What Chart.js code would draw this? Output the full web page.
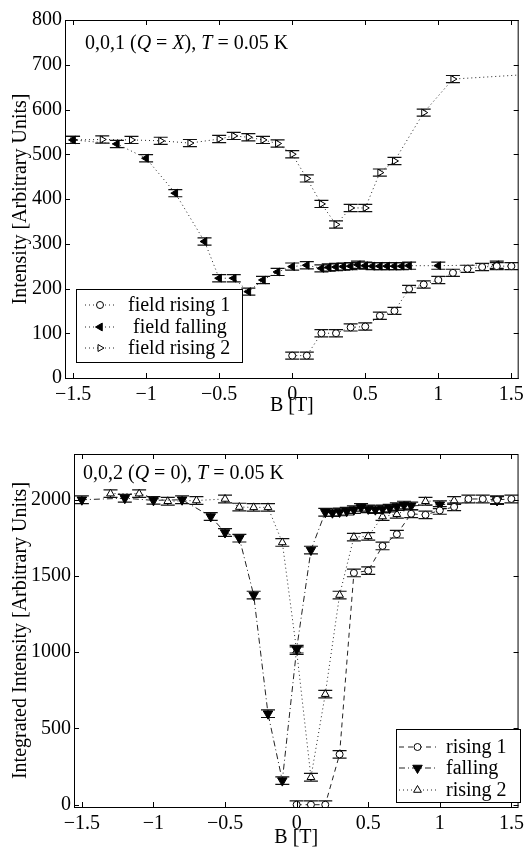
<!DOCTYPE html>
<html>
<head>
<meta charset="utf-8">
<script src="https://cdn.jsdelivr.net/npm/chart.js@4.4.0/dist/chart.umd.min.js"></script>
<style>
  body { margin: 0; background: #fff; }
  #wrap { position: relative; width: 529px; height: 848px; }
  canvas { position: absolute; left: 0; }
</style>
</head>
<body>
<div id="wrap">
  <canvas id="topChart" width="529" height="420" style="top:0"></canvas>
  <canvas id="bottomChart" width="529" height="428" style="top:420px"></canvas>
</div>
<script>
// Data: 0,0,1 peak (top panel)
const bRise1 = [0, 0.1, 0.2, 0.3, 0.4, 0.5, 0.6, 0.7, 0.8, 0.9, 1.0, 1.1, 1.2, 1.3, 1.4, 1.5];
const iRise1 = [50, 50, 100, 100, 113, 115, 139, 150, 199, 209, 219, 235, 244, 248, 250, 250];
const bFall = [1.4, 1.0, 0.8, 0.75, 0.7, 0.65, 0.6, 0.55, 0.5, 0.45, 0.4, 0.35, 0.3, 0.25, 0.2, 0.1, 0, -0.1, -0.2, -0.3, -0.4, -0.5, -0.6, -0.8, -1.0, -1.2, -1.5];
const iFall = [253, 251, 251, 250, 250, 250, 250, 250, 251, 253, 250, 249, 248, 247, 245, 252, 249, 237, 219, 193, 223, 223, 305, 413, 491, 523, 532];
const bRise2 = [-1.5, -1.3, -1.1, -0.9, -0.7, -0.5, -0.4, -0.3, -0.2, -0.1, 0, 0.1, 0.2, 0.3, 0.4, 0.5, 0.6, 0.7, 0.9, 1.1, 1.6];
const iRise2 = [532, 533, 532, 530, 525, 534, 541, 538, 532, 524, 500, 446, 389, 343, 380, 380, 459, 485, 593, 668, 678];

// Data: 0,0,2 peak (bottom panel)
const b2Rise1 = [0, 0.1, 0.2, 0.3, 0.4, 0.5, 0.6, 0.7, 0.8, 0.9, 1.0, 1.1, 1.2, 1.3, 1.4, 1.5];
const i2Rise1 = [0, 0, 0, 330, 1520, 1535, 1697, 1774, 1908, 1901, 1930, 1953, 2005, 2005, 2000, 2005];
const b2Fall = [1.4, 1.0, 0.8, 0.75, 0.7, 0.65, 0.6, 0.55, 0.5, 0.45, 0.4, 0.35, 0.3, 0.25, 0.2, 0.1, 0, -0.1, -0.2, -0.3, -0.4, -0.5, -0.6, -0.8, -1.0, -1.2, -1.5];
const i2Fall = [1995, 1967, 1960, 1965, 1955, 1945, 1940, 1935, 1940, 1950, 1935, 1925, 1920, 1915, 1918, 1670, 1020, 158, 597, 1375, 1748, 1785, 1890, 2000, 1996, 2010, 2000];
const b2Rise2 = [-1.3, -1.1, -0.9, -0.7, -0.5, -0.4, -0.3, -0.2, -0.1, 0, 0.1, 0.2, 0.3, 0.4, 0.5, 0.6, 0.7, 0.9, 1.1];
const i2Rise2 = [2040, 2040, 1990, 1995, 2005, 1952, 1950, 1950, 1720, 1010, 180, 725, 1375, 1755, 1760, 1890, 1905, 1990, 1995];

// Tick labels
const xTicks = [-1.5, -1, -0.5, 0, 0.5, 1, 1.5];
const yTicksTop = [0, 100, 200, 300, 400, 500, 600, 700, 800];
const yTicksBottom = [0, 500, 1000, 1500, 2000];

const FONT = '"Liberation Serif", "Times New Roman", serif';

function pts(xs, ys) {
    return xs.map((x, i) => ({ x: x, y: ys[i] }));
}

function fmt(v) {
    return v < 0 ? '\u2212' + Math.abs(v) : String(v);
}

// error bars, frame with inward ticks, titles, annotation and legend
function panelPlugin(cfg) {
    return {
        id: 'panel',
        beforeDatasetsDraw(chart) {
            const ctx = chart.ctx;
            const a = chart.chartArea;
            const ys = chart.scales.y;
            ctx.save();
            ctx.beginPath();
            ctx.rect(a.left, a.top, a.right - a.left, a.bottom - a.top);
            ctx.clip();
            ctx.strokeStyle = '#111';
            ctx.lineWidth = 1.2;
            chart.data.datasets.forEach((ds, i) => {
                const meta = chart.getDatasetMeta(i);
                meta.data.forEach((el, j) => {
                    const p = ds.data[j];
                    const px = el.x;
                    const y1 = ys.getPixelForValue(p.y + cfg.err);
                    const y2 = ys.getPixelForValue(p.y - cfg.err);
                    ctx.beginPath();
                    ctx.moveTo(px, y1); ctx.lineTo(px, y2);
                    ctx.moveTo(px - 7, y1); ctx.lineTo(px + 7, y1);
                    ctx.moveTo(px - 7, y2); ctx.lineTo(px + 7, y2);
                    ctx.stroke();
                });
            });
            ctx.restore();
        },
        afterDraw(chart) {
            const ctx = chart.ctx;
            const a = chart.chartArea;
            const xs = chart.scales.x, ys = chart.scales.y;
            ctx.save();
            ctx.strokeStyle = '#000';
            ctx.lineWidth = 1;
            ctx.strokeRect(a.left + 0.5, a.top + 0.5, a.right - a.left - 1, a.bottom - a.top);
            ctx.beginPath();
            xTicks.forEach(v => {
                const px = Math.round(xs.getPixelForValue(v)) + 0.5;
                ctx.moveTo(px, a.bottom); ctx.lineTo(px, a.bottom - 5);
                ctx.moveTo(px, a.top); ctx.lineTo(px, a.top + 5);
            });
            cfg.yTicks.forEach(v => {
                const py = Math.round(ys.getPixelForValue(v)) + 0.5;
                ctx.moveTo(a.left, py); ctx.lineTo(a.left + 5, py);
                ctx.moveTo(a.right, py); ctx.lineTo(a.right - 5, py);
            });
            ctx.stroke();

            ctx.fillStyle = '#000';
            ctx.font = '20px ' + FONT;
            // x title
            ctx.textAlign = 'center';
            ctx.textBaseline = 'alphabetic';
            ctx.fillText('B [T]', (a.left + a.right) / 2, a.bottom + cfg.xTitleGap);
            // y title
            ctx.save();
            ctx.translate(21, (a.top + a.bottom) / 2);
            ctx.rotate(-Math.PI / 2);
            ctx.textBaseline = 'middle';
            ctx.fillText(cfg.yTitle, 0, 0);
            ctx.restore();

            // annotation with italic symbols
            ctx.textAlign = 'left';
            let tx = cfg.note.x;
            cfg.note.parts.forEach(p => {
                ctx.font = (p[1] ? 'italic ' : '') + '20px ' + FONT;
                ctx.fillText(p[0], tx, cfg.note.y);
                tx += ctx.measureText(p[0]).width;
            });

            // legend
            const lg = cfg.legend;
            ctx.fillStyle = '#fff';
            ctx.fillRect(lg.x, lg.y, lg.w, lg.h);
            ctx.strokeStyle = '#000';
            ctx.lineWidth = 1;
            ctx.strokeRect(lg.x + 0.5, lg.y + 0.5, lg.w, lg.h);
            ctx.font = '20px ' + FONT;
            ctx.textBaseline = 'middle';
            chart.data.datasets.forEach((ds, i) => {
                const ry = lg.rows[i];
                ctx.save();
                ctx.strokeStyle = ds.borderColor;
                ctx.lineWidth = ds.borderWidth;
                ctx.setLineDash(ds.borderDash);
                ctx.beginPath();
                ctx.moveTo(lg.x1, ry); ctx.lineTo(lg.x2, ry);
                ctx.stroke();
                ctx.restore();
                ctx.save();
                ctx.fillStyle = ds.pointBackgroundColor;
                ctx.strokeStyle = '#000';
                Chart.helpers.drawPoint(ctx, {
                    pointStyle: ds.pointStyle, radius: ds.pointRadius,
                    rotation: ds.pointRotation || 0, borderWidth: 1
                }, (lg.x1 + lg.x2) / 2, ry);
                ctx.restore();
                ctx.fillStyle = '#000';
                ctx.fillText(ds.label, lg.tx, ry + 1);
            });
            ctx.restore();
        }
    };
}

function series(label, data, style) {
    return Object.assign({
        label: label,
        data: data,
        showLine: true,
        borderColor: '#222',
        borderWidth: 1,
        pointBorderColor: '#000',
        pointBorderWidth: 1,
        pointHoverRadius: 0
    }, style);
}

function makeOptions(pad, yWidth, xHeight, yMin, yMax, yTicks) {
    return {
        responsive: false,
        animation: false,
        events: [],
        layout: { padding: pad },
        plugins: { legend: { display: false }, tooltip: { enabled: false } },
        scales: {
            x: {
                type: 'linear', min: -1.555, max: 1.55,
                grid: { display: false, drawTicks: false },
                border: { display: false },
                afterBuildTicks: s => { s.ticks = xTicks.map(v => ({ value: v })); },
                afterFit: s => { s.height = xHeight; },
                ticks: {
                    color: '#000', padding: 5, maxRotation: 0, autoSkip: false,
                    font: { family: FONT, size: 20 }, callback: v => fmt(v)
                }
            },
            y: {
                type: 'linear', min: yMin, max: yMax,
                grid: { display: false, drawTicks: false },
                border: { display: false },
                afterBuildTicks: s => { s.ticks = yTicks.map(v => ({ value: v })); },
                afterFit: s => { s.width = yWidth; },
                ticks: {
                    color: '#000', padding: 3, autoSkip: false,
                    font: { family: FONT, size: 20 }, callback: v => fmt(v)
                }
            }
        }
    };
}

// Top panel
new Chart(document.getElementById('topChart'), {
    type: 'scatter',
    data: {
        datasets: [
            series('field rising 1', pts(bRise1, iRise1), {
                borderDash: [1, 3], pointStyle: 'circle', pointRadius: 3.5, pointBackgroundColor: '#fff'
            }),
            series(' field falling', pts(bFall, iFall), {
                borderDash: [1, 3], pointStyle: 'triangle', pointRotation: -90, pointRadius: 4.5, pointBackgroundColor: '#000'
            }),
            series('field rising 2', pts(bRise2, iRise2), {
                borderDash: [1, 3], pointStyle: 'triangle', pointRotation: 90, pointRadius: 4, pointBackgroundColor: '#fff'
            })
        ]
    },
    options: makeOptions({ left: 0, top: 20, right: 8, bottom: 0 }, 65, 42, 0, 800, yTicksTop),
    plugins: [panelPlugin({
        err: 8,
        xTitleGap: 33,
        yTicks: yTicksTop,
        yTitle: 'Intensity [Arbitrary Units]',
        note: { x: 85, y: 49, parts: [['0,0,1 (', false], ['Q', true], [' = ', false], ['X', true], ['), ', false], ['T', true], [' = 0.05 K', false]] },
        legend: { x: 76, y: 289, w: 166, h: 73, rows: [305, 327, 348], x1: 85, x2: 115, tx: 128 }
    })]
});

// Bottom panel
new Chart(document.getElementById('bottomChart'), {
    type: 'scatter',
    data: {
        datasets: [
            series('rising 1', pts(b2Rise1, i2Rise1), {
                borderDash: [5, 4], pointStyle: 'circle', pointRadius: 3.5, pointBackgroundColor: '#fff'
            }),
            series('falling', pts(b2Fall, i2Fall), {
                borderDash: [6, 3, 1, 3], pointStyle: 'triangle', pointRotation: 180, pointRadius: 5.5, pointBackgroundColor: '#000'
            }),
            series('rising 2', pts(b2Rise2, i2Rise2), {
                borderDash: [1, 3], pointStyle: 'triangle', pointRadius: 4.5, pointBackgroundColor: '#fff'
            })
        ]
    },
    options: makeOptions({ left: 0, top: 34, right: 7, bottom: 0 }, 74, 41, -15, 2300, yTicksBottom),
    plugins: [panelPlugin({
        err: 25,
        xTitleGap: 36,
        yTicks: yTicksBottom,
        yTitle: 'Integrated Intensity [Arbitrary Units]',
        note: { x: 83, y: 59, parts: [['0,0,2 (', false], ['Q', true], [' = 0), ', false], ['T', true], [' = 0.05 K', false]] },
        legend: { x: 396, y: 309, w: 124, h: 73, rows: [327, 348, 370], x1: 399, x2: 436, tx: 446 }
    })]
});
</script>
</body>
</html>
